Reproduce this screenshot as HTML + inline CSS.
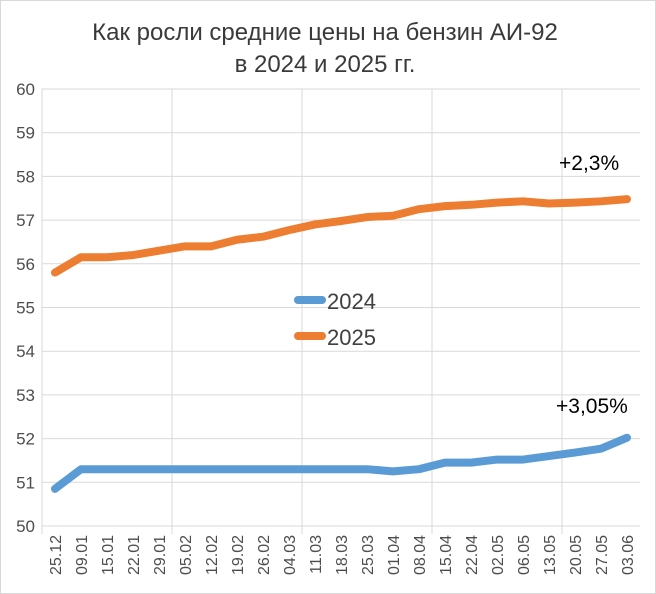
<!DOCTYPE html>
<html><head><meta charset="utf-8"><style>
body{margin:0;background:#fff}
svg{display:block;font-family:"Liberation Sans","DejaVu Sans",sans-serif}
</style></head><body>
<svg width="656" height="594">
<rect x="0.5" y="0.5" width="655" height="593" fill="#fff" stroke="#d9d9d9"/>
<text x="325" y="40" text-anchor="middle" font-size="24" fill="#3a3a3a">Как росли средние цены на бензин АИ-92</text>
<text x="325" y="72" text-anchor="middle" font-size="24" fill="#3a3a3a">в 2024 и 2025 гг.</text>
<g id="grid"></g><g id="axes"></g><g id="lines"></g>
<g>
<line x1="298" y1="300" x2="322" y2="300" stroke="#5b9bd5" stroke-width="8" stroke-linecap="round"/>
<text x="327" y="309" font-size="22" fill="#404040">2024</text>
<line x1="298" y1="336" x2="322" y2="336" stroke="#ed7d31" stroke-width="8" stroke-linecap="round"/>
<text x="327" y="345" font-size="22" fill="#404040">2025</text>
</g>
<text x="559" y="170" font-size="21" fill="#000">+2,3%</text>
<text x="556" y="413" font-size="21" fill="#000">+3,05%</text>
</svg>
<script>
const categories=["25.12","09.01","15.01","22.01","29.01","05.02","12.02","19.02","26.02","04.03","11.03","18.03","25.03","01.04","08.04","15.04","22.04","02.05","06.05","13.05","20.05","27.05","03.06"];
const values2024=[50.85,51.3,51.3,51.3,51.3,51.3,51.3,51.3,51.3,51.3,51.3,51.3,51.3,51.25,51.3,51.45,51.45,51.52,51.52,51.6,51.68,51.77,52.02];
const values2025=[55.8,56.15,56.15,56.2,56.3,56.4,56.4,56.55,56.62,56.77,56.9,56.98,57.07,57.1,57.25,57.32,57.35,57.4,57.43,57.38,57.4,57.43,57.48];
const yTicks=[50,51,52,53,54,55,56,57,58,59,60];
const NS="http://www.w3.org/2000/svg";
const L=42,R=640,T=89,B=526,yMin=50,yMax=60;
const bw=(R-L)/categories.length;
const xS=i=>L+bw*(i+0.5);
const yS=v=>B-(v-yMin)/(yMax-yMin)*(B-T);
function mk(tag,attrs,parent){const e=document.createElementNS(NS,tag);for(const k in attrs)e.setAttribute(k,attrs[k]);document.getElementById(parent).appendChild(e);return e;}
yTicks.forEach(v=>{
 const l=mk("line",{x1:L,x2:R,y1:yS(v),y2:yS(v),stroke:"#d9d9d9","stroke-width":1},"grid");
 
 
 const t=mk("text",{x:L-7,y:yS(v)+6,"text-anchor":"end","font-size":17,fill:"#4d4d4d"},"axes");
 t.textContent=v;
 
 
});
for(let i=0;i<=categories.length;i+=5){
 const x=L+bw*i;
 const l=mk("line",{x1:x,x2:x,y1:T,y2:B+8,stroke:"#d9d9d9","stroke-width":1},"grid");
 
 
}
categories.forEach((c,i)=>{
 const x=xS(i);
 const t=mk("text",{x:0,y:0,"text-anchor":"end","font-size":16,fill:"#4d4d4d",transform:`translate(${x+6},${B+9}) rotate(-90)`},"axes");
 t.textContent=c;
 
 
});
[[values2024,"#5b9bd5","line-2024"],[values2025,"#ed7d31","line-2025"]].forEach(([vals,col,name])=>{
 const p=mk("polyline",{points:vals.map((v,i)=>xS(i)+","+yS(v)).join(" "),fill:"none",stroke:col,"stroke-width":8,"stroke-linecap":"round","stroke-linejoin":"round"},"lines");
 
 
});
</script>
</body></html>
